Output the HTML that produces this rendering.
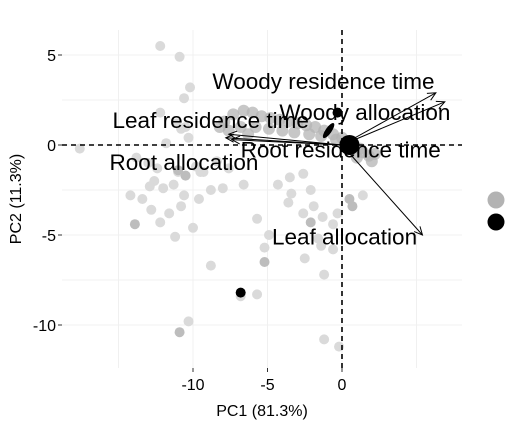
<!DOCTYPE html>
<html><head><meta charset="utf-8"><style>
body{margin:0;background:#fff;}
svg{display:block;font-family:"Liberation Sans",Arial,sans-serif;}
</style></head><body>
<svg id="chart" width="529" height="428" viewBox="0 0 529 428"></svg>
<script>
const xTicks=[-10,-5,0];
const yTicks=[5,0,-5,-10];
const xGrid=[-15,-10,-5,0,5];
const yGrid=[5,2.5,0,-2.5,-5,-7.5,-10];
// light grey observation points [PC1, PC2]
const lightX=[-12.2,-10.9,-10.2,-10.6,-12.2,-11.1,-10.5,-10.3,-11.8,-17.6,-13.8,-13,-12.4,-11,-10.5,-9.5,-9.8,-8.4,-12.6,-12.9,-12,-11.3,-10.6,-9.6,-8.8,-8,-11.6,-12.2,-11.2,-10,-12.8,-13.4,-10.8,-9.3,-6.6,-4.3,-3.6,-2.1,-2.6,-1.9,-1.3,-0.6,-4.9,-1.4,-0.6,-5.7,-10.3,-1.2,-0.2,-6.8,-8.8,-2.5,-3.4,-0.3,-1.2,1.4,-5.2,-5.7,-3.5,-14.2,-10.8,-7.6,-2.6,0.6,-1.6];
const lightY=[5.5,4.9,3.2,2.6,1.8,1.2,1.0,0.4,0.1,-0.2,-0.7,-1.0,-1.3,-1.5,-1.7,-1.5,-1.2,-0.9,-2.0,-2.3,-2.4,-2.2,-2.8,-3.0,-2.5,-2.4,-3.8,-4.3,-5.1,-4.6,-3.6,-3.0,-3.4,-1.5,-2.2,-2.2,-3.2,-2.5,-3.8,-3.4,-4.0,-4.4,-5.0,-5.6,-5.8,-8.3,-9.8,-10.8,-11.2,-8.4,-6.7,-6.3,-2.7,-3.8,-7.2,-2.8,-5.7,-4.1,-1.8,-2.8,0.9,-1.3,-1.6,-0.1,-5.2];
// mid grey observation points
const midX=[-10.9,-13.9,-5.2,-2.1,0.7,-11,-10.5,0.5];
const midY=[-10.4,-4.4,-6.5,-4.3,-3.4,-1.4,-1.7,-3.0];
// dense band (upper cluster)
const bandX=[-7.9,-7.3,-6.6,-6,-5.4,-4.8,-4.2,-3.6,-3,-2.4,-1.8,-1.2,-0.6,0,0.6,1.2,1.8,-7.6,-6.8,-5.8,-4.9,-4,-3.2,-2.2,-1.4,-0.4,0.5,1.4,2.2,1.0,2.0,-8.2,-6.3];
const bandY=[1.3,1.7,1.9,1.8,1.6,1.5,1.4,1.3,1.2,1.1,1.0,0.8,0.6,0.4,0.2,-0.2,-0.6,0.8,1.0,1.0,0.9,0.8,0.7,0.6,0.5,0.3,-0.1,-0.4,-0.5,-0.7,-0.9,1.0,0.6];
// loadings
const loadNames=["Woody residence time","Woody allocation","Leaf allocation","Leaf residence time","Root allocation","Root residence time"];
const loadX=[6.3,6.9,5.4,-7.6,-7.4,-7.8];
const loadY=[2.9,2.4,-5.0,0.6,0.3,0.4];
const labelX=[-8.7,-4.2,-4.7,-15.4,-15.6,-6.8];
const labelY=[3.5,1.78,-5.15,1.33,-1.0,-0.3];

const X=v=>342+v*14.9, Y=v=>145-v*18;
const svg=document.getElementById('chart');
const NS='http://www.w3.org/2000/svg';
function mk(t,a,p){const e=document.createElementNS(NS,t);for(const k in a)e.setAttribute(k,a[k]);(p||svg).appendChild(e);return e;}
const L=62,R=462,T=30,B=368;
xGrid.forEach(v=>{const e=mk('line',{x1:X(v),x2:X(v),y1:T,y2:B,stroke:'#f0f0f0','stroke-width':1});
});
yGrid.forEach(v=>{const e=mk('line',{x1:L,x2:R,y1:Y(v),y2:Y(v),stroke:'#f0f0f0','stroke-width':1});
});
const pts=mk('g',{});
bandX.forEach((v,i)=>{const c=mk('circle',{cx:X(v),cy:Y(bandY[i]),r:6,fill:'#b4b4b4','fill-opacity':0.75},pts);
});
lightX.forEach((v,i)=>{const c=mk('circle',{cx:X(v),cy:Y(lightY[i]),r:5,fill:'#dadada'},pts);
});
midX.forEach((v,i)=>{const c=mk('circle',{cx:X(v),cy:Y(midY[i]),r:5,fill:'#bdbdbd'},pts);
});
// black points
[[0.5,0,10],[-0.3,1.8,5],[-6.8,-8.2,5]].forEach(p=>{const c=mk('circle',{cx:X(p[0]),cy:Y(p[1]),r:p[2],fill:'#000'},pts);
});
const el=mk('ellipse',{cx:X(-0.9),cy:Y(0.8),rx:3,ry:9,fill:'#000',transform:`rotate(35 ${X(-0.9)} ${Y(0.8)})`});

// reference lines
const h=mk('line',{x1:L,x2:R,y1:Y(0),y2:Y(0),stroke:'#000','stroke-width':1.6,'stroke-dasharray':'5,4'});

const vv=mk('line',{x1:X(0),x2:X(0),y1:T,y2:B,stroke:'#000','stroke-width':1.6,'stroke-dasharray':'5,4'});

// arrows
loadX.forEach((v,i)=>{const g=mk('g',{});
const x0=X(0),y0=Y(0),x1=X(v),y1=Y(loadY[i]);
mk('line',{x1:x0,y1:y0,x2:x1,y2:y1,stroke:'#000','stroke-width':1},g);
const a=Math.atan2(y1-y0,x1-x0),s=9;
const p=`M${x1-s*Math.cos(a-0.45)},${y1-s*Math.sin(a-0.45)} L${x1},${y1} L${x1-s*Math.cos(a+0.45)},${y1-s*Math.sin(a+0.45)}`;
mk('path',{d:p,fill:'none',stroke:'#000','stroke-width':1},g);
const t=mk('text',{x:X(labelX[i]),y:Y(labelY[i])+7,'font-size':22.5,fill:'#000'});t.textContent=loadNames[i];
});
// ticks
xTicks.forEach(v=>{mk('line',{x1:X(v),x2:X(v),y1:B,y2:B+4,stroke:'#333'});
const t=mk('text',{x:X(v),y:B+22,'font-size':16,'text-anchor':'middle',fill:'#000'});t.textContent=v;
});
yTicks.forEach(v=>{mk('line',{x1:L-4,x2:L,y1:Y(v),y2:Y(v),stroke:'#333'});
const t=mk('text',{x:L-6,y:Y(v)+6,'font-size':16,'text-anchor':'end',fill:'#000'});t.textContent=v;
});
const xt=mk('text',{x:262,y:416,'font-size':16,'text-anchor':'middle'});xt.textContent='PC1 (81.3%)';

const yt=mk('text',{x:21,y:199,'font-size':16,'text-anchor':'middle',transform:'rotate(-90 21 199)'});yt.textContent='PC2 (11.3%)';

const lg=mk('g',{});
const l1=mk('circle',{cx:496,cy:200,r:8.5,fill:'#b3b3b3'},lg);
const l2=mk('circle',{cx:496,cy:222,r:8.5,fill:'#000'},lg);
</script>
</body></html>
